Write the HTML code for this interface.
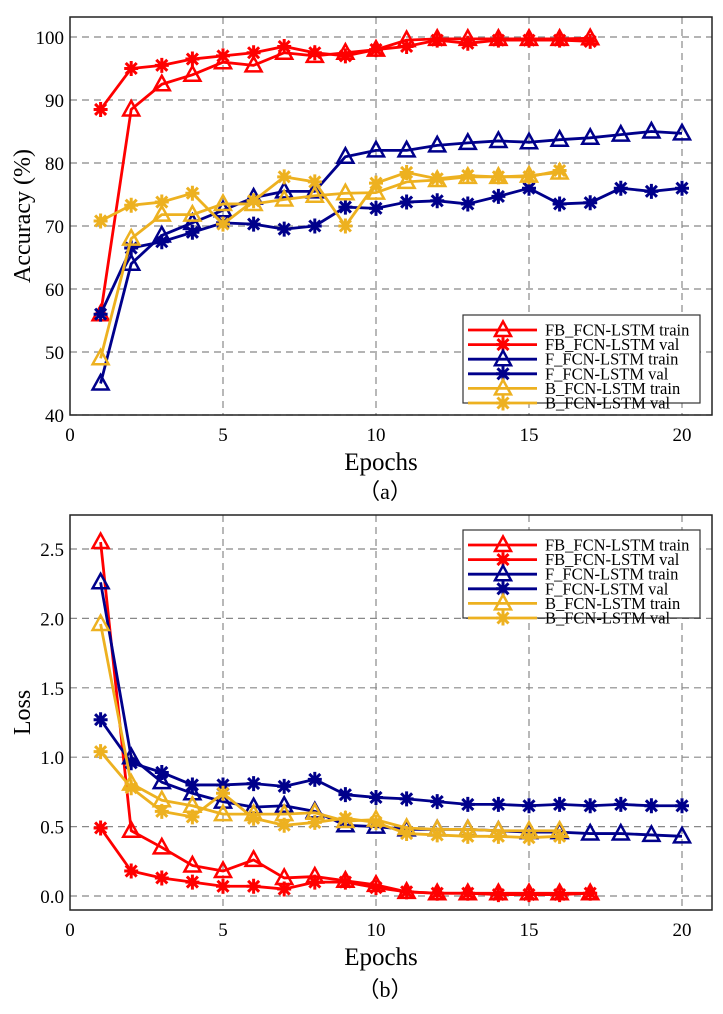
<!DOCTYPE html>
<html><head><meta charset="utf-8"><style>
body{margin:0;background:#fff}
svg{display:block;font-family:"Liberation Serif",serif}
</style></head><body>
<svg id="c" width="723" height="1014" viewBox="0 0 723 1014"></svg>
<script>
const epochs20=[1,2,3,4,5,6,7,8,9,10,11,12,13,14,15,16,17,18,19,20];
const xTicks=[0,5,10,15,20];
const accTicks=[40,50,60,70,80,90,100];
const lossTicks=[0.0,0.5,1.0,1.5,2.0,2.5];
const seriesNames=["FB_FCN-LSTM train","FB_FCN-LSTM val","F_FCN-LSTM train","F_FCN-LSTM val","B_FCN-LSTM train","B_FCN-LSTM val"];
const accFBtrain=[56,88.5,92.5,94,96,95.5,97.5,97,97.5,98,99.5,99.7,99.7,99.7,99.7,99.7,99.8];
const accFBval=[88.5,95,95.5,96.5,97,97.5,98.5,97.5,97,98,98.5,99.5,99,99.5,99.5,99.5,99.3];
const accFtrain=[45,64,68.5,70.5,72.5,74.5,75.5,75.5,81,82,82,82.8,83.2,83.5,83.3,83.7,84,84.5,85,84.7];
const accFval=[56,66.5,67.5,69,70.5,70.3,69.5,70,73,72.8,73.8,74,73.5,74.7,76,73.5,73.7,76,75.5,76];
const accBtrain=[49,68,71.8,71.8,73.5,73.5,74.2,74.8,75.2,75.3,77,77.3,77.8,77.8,78,78.5];
const accBval=[70.8,73.3,73.8,75.2,70.3,74,77.8,77,70,76.8,78.5,77.5,78,77.8,77.8,78.8];
const lossFBtrain=[2.55,0.47,0.35,0.22,0.18,0.26,0.13,0.14,0.11,0.08,0.03,0.02,0.02,0.02,0.02,0.02,0.02];
const lossFBval=[0.49,0.18,0.13,0.10,0.07,0.07,0.05,0.10,0.10,0.06,0.03,0.02,0.02,0.01,0.01,0.01,0.02];
const lossFtrain=[2.26,1.0,0.82,0.74,0.68,0.64,0.65,0.61,0.51,0.50,0.48,0.48,0.48,0.47,0.46,0.46,0.45,0.45,0.44,0.43];
const lossFval=[1.27,0.96,0.89,0.80,0.80,0.81,0.79,0.84,0.73,0.71,0.70,0.68,0.66,0.66,0.65,0.66,0.65,0.66,0.65,0.65];
const lossBtrain=[1.96,0.81,0.69,0.65,0.59,0.59,0.59,0.60,0.54,0.55,0.49,0.48,0.48,0.47,0.47,0.47];
const lossBval=[1.04,0.78,0.61,0.57,0.74,0.56,0.51,0.53,0.56,0.53,0.45,0.44,0.43,0.43,0.42,0.43];

const NS="http://www.w3.org/2000/svg";
const svg=document.getElementById('c');
function mk(tag,attrs,parent){const e=document.createElementNS(NS,tag);for(const k in attrs)e.setAttribute(k,attrs[k]);(parent||svg).appendChild(e);return e;}
const colors=["#ff0000","#ff0000","#00008b","#00008b","#edb120","#edb120"];
const markers=["tri","star","tri","star","tri","star"];

function marker(g,type,x,y,col){
  if(type==="tri"){
    const m=mk('polygon',{points:`${x},${y-8.5} ${x-8},${y+6} ${x+8},${y+6}`,fill:'none',stroke:col,'stroke-width':2.5},g);
    
  } else {
    const m=mk('path',{d:`M${x-7},${y}H${x+7}M${x},${y-7.5}V${y+7.5}M${x-5.5},${y-5.5}L${x+5.5},${y+5.5}M${x-5.5},${y+5.5}L${x+5.5},${y-5.5}`,stroke:col,'stroke-width':3},g);
    
  }
}

function chart(id,box,ymin,ymax,yTicks,yFmt,series,legendY,ylabel,ylabelX,caption,capY){
  const g=mk('g',{});
  
  const X=v=>box.x0+(v-0)/(20-0)*(box.x20-box.x0);
  const Y=v=>box.yb+(v-ymin)/(ymax-ymin)*(box.yt-box.yb);
  xTicks.forEach(t=>{if(t>0){const l=mk('line',{x1:X(t),x2:X(t),y1:box.top,y2:box.bottom,stroke:'#888','stroke-width':1.2,'stroke-dasharray':'7,5'},g);}});
  yTicks.forEach(t=>{const l=mk('line',{x1:box.left,x2:box.right,y1:Y(t),y2:Y(t),stroke:'#888','stroke-width':1.2,'stroke-dasharray':'7,5'},g);});
  xTicks.forEach(t=>{const tx=mk('text',{x:X(t),y:box.bottom+26,'font-size':19,'text-anchor':'middle'},g);tx.textContent=t;});
  yTicks.forEach(t=>{const tx=mk('text',{x:box.left-6,y:Y(t)+7,'font-size':19,'text-anchor':'end'},g);tx.textContent=yFmt(t);});
  series.forEach((d,i)=>{
    const sg=mk('g',{},g);
    
    
    const pts=d.map((v,j)=>X(epochs20[j])+','+Y(v)).join(' ');
    const pl=mk('polyline',{points:pts,fill:'none',stroke:colors[i],'stroke-width':2.8,'stroke-linejoin':'round'},sg);
    
    d.forEach((v,j)=>marker(sg,markers[i],X(epochs20[j]),Y(v),colors[i]));
  });
  const fr=mk('rect',{x:box.left,y:box.top,width:box.right-box.left,height:box.bottom-box.top,fill:'none',stroke:'#222','stroke-width':1.5},g);
  
  const lg=mk('g',{},g);
  const lr=mk('rect',{x:463,y:legendY,width:237,height:88,fill:'#fff',stroke:'#333','stroke-width':1.2},lg);
  
  seriesNames.forEach((n,i)=>{
    const yy=legendY+15+i*14.6;
    const ln=mk('line',{x1:468,x2:537,y1:yy,y2:yy,stroke:colors[i],'stroke-width':2.8},lg);
    
    marker(lg,markers[i],503,yy,colors[i]);
    const t=mk('text',{x:545,y:yy+5.5,'font-size':16.5},lg);t.textContent=n;
    
  });
  const xt=mk('text',{x:(box.left+box.right)/2-10,y:box.bottom+55,'font-size':25,'text-anchor':'middle'},g);xt.textContent='Epochs';
  
  const cy=(box.top+box.bottom)/2;
  const yt=mk('text',{x:ylabelX,y:cy,'font-size':24,'text-anchor':'middle',transform:`rotate(-90 ${ylabelX} ${cy})`},g);yt.textContent=ylabel;
  
  const ct=mk('text',{x:385,y:capY,'font-size':22,'text-anchor':'middle'},g);ct.textContent=caption;
  
}

chart('accuracy-chart',{left:70,right:712,top:17,bottom:415,x0:70,x20:682,yt:37,yb:415},40,100,accTicks,t=>t,
  [accFBtrain,accFBval,accFtrain,accFval,accBtrain,accBval],315,'Accuracy (%)',30,'（a）',499);
chart('loss-chart',{left:70,right:712,top:515,bottom:910,x0:70,x20:682,yt:549,yb:896},0,2.5,lossTicks,t=>t.toFixed(1),
  [lossFBtrain,lossFBval,lossFtrain,lossFval,lossBtrain,lossBval],530,'Loss',30,'（b）',997);
</script>
</body></html>
